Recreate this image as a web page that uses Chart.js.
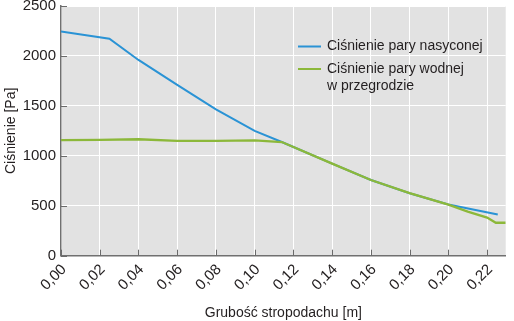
<!DOCTYPE html>
<html>
<head>
<meta charset="utf-8">
<script src="https://cdn.jsdelivr.net/npm/chart.js@4/dist/chart.umd.min.js"></script>
<style>
  html, body { margin: 0; padding: 0; background: #fff; }
  canvas { display: block; }
</style>
</head>
<body>
<canvas id="c" width="514" height="321"></canvas>
<script>
// thickness of roof slab [m] vs pressure [Pa]
const satX = [0, 0.025, 0.04, 0.06, 0.08, 0.10, 0.114, 0.12, 0.14, 0.16, 0.18, 0.20, 0.2255];
const satY = [2245, 2172, 1960, 1710, 1465, 1250, 1138, 1088, 922, 758, 626, 512, 412];

const vapX = [0, 0.02, 0.04, 0.06, 0.08, 0.10, 0.114, 0.12, 0.14, 0.16, 0.18, 0.20, 0.21, 0.22, 0.2245, 0.2296];
const vapY = [1158, 1160, 1166, 1150, 1150, 1154, 1138, 1088, 922, 758, 626, 512, 442, 382, 330, 330];

const xTicks = [0, 0.02, 0.04, 0.06, 0.08, 0.10, 0.12, 0.14, 0.16, 0.18, 0.20, 0.22];
const yTicks = [0, 500, 1000, 1500, 2000, 2500];

const satLabel = ['Ciśnienie pary nasyconej'];
const vapLabel = ['Ciśnienie pary wodnej', 'w przegrodzie'];

const BLUE = '#2a93d5';
const GREEN = '#8cb83a';
const TEXT = '#231f20';
const FONT = "'Liberation Sans', Arial, sans-serif";

const toPts = (xs, ys) => xs.map((x, i) => ({ x, y: ys[i] }));

// grey plot background
const plotBg = {
  id: 'plotBg',
  beforeDraw(chart) {
    const { ctx, chartArea: a } = chart;
    ctx.save();
    ctx.fillStyle = '#e2e2e2';
    ctx.fillRect(a.left, a.top, a.right - a.left, a.bottom - a.top);
    ctx.restore();
  }
};

// short tick marks pointing into the plot
const innerTicks = {
  id: 'innerTicks',
  beforeDatasetsDraw(chart) {
    const { ctx, scales: { x, y } } = chart;
    ctx.save();
    ctx.strokeStyle = '#6a6a6a';
    ctx.lineWidth = 1;
    ctx.beginPath();
    xTicks.forEach(v => {
      const px = Math.round(x.getPixelForValue(v)) + 0.5;
      ctx.moveTo(px, y.bottom);
      ctx.lineTo(px, y.bottom - 6);
    });
    yTicks.forEach(v => {
      const py = Math.round(y.getPixelForValue(v)) + 0.5;
      ctx.moveTo(x.left, py);
      ctx.lineTo(x.left + 6, py);
    });
    ctx.stroke();
    ctx.restore();
  }
};

// legend in the upper right of the plot, second label wraps
const insideLegend = {
  id: 'insideLegend',
  afterDatasetsDraw(chart) {
    const { ctx } = chart;
    const items = [
      { color: BLUE, lines: satLabel, y: 46.5 },
      { color: GREEN, lines: vapLabel, y: 69 }
    ];
    ctx.save();
    ctx.font = '14px ' + FONT;
    ctx.textBaseline = 'middle';
    ctx.fillStyle = TEXT;
    items.forEach(it => {
      ctx.strokeStyle = it.color;
      ctx.lineWidth = 2;
      ctx.beginPath();
      ctx.moveTo(298, it.y);
      ctx.lineTo(321, it.y);
      ctx.stroke();
      it.lines.forEach((t, i) => ctx.fillText(t, 327, it.y + i * 17.5));
    });
    ctx.restore();
  }
};

new Chart(document.getElementById('c'), {
  type: 'line',
  data: {
    datasets: [
      {
        label: satLabel.join(' '),
        data: toPts(satX, satY),
        borderColor: BLUE,
        borderWidth: 2,
        pointRadius: 0,
        tension: 0,
        order: 1
      },
      {
        label: vapLabel.join(' '),
        data: toPts(vapX, vapY),
        borderColor: GREEN,
        borderWidth: 2.3,
        pointRadius: 0,
        tension: 0,
        order: 0
      }
    ]
  },
  options: {
    responsive: false,
    animation: false,
    layout: { autoPadding: false, padding: { top: 6, right: 8.3, bottom: 0, left: 0 } },
    plugins: { legend: { display: false }, tooltip: { enabled: false } },
    scales: {
      x: {
        type: 'linear',
        min: 0,
        max: 0.2296,
        afterBuildTicks: s => { s.ticks = xTicks.map(v => ({ value: v })); },
        afterFit: s => { s.height = 65.3; s.paddingLeft = 0; s.paddingRight = 0; },
        border: { color: '#707070', width: 1.5 },
        grid: { color: '#ffffff', lineWidth: 1, drawTicks: false },
        ticks: {
          minRotation: 45,
          maxRotation: 45,
          padding: 5,
          labelOffset: 3,
          color: TEXT,
          font: { family: FONT, size: 15 },
          callback: v => v.toFixed(2).replace('.', ',')
        },
        title: {
          display: true,
          text: 'Grubość stropodachu [m]',
          color: TEXT,
          font: { family: FONT, size: 14 },
          padding: { top: 0, bottom: -1 }
        }
      },
      y: {
        min: 0,
        max: 2500,
        afterBuildTicks: s => { s.ticks = yTicks.map(v => ({ value: v })); },
        afterFit: s => { s.width = 61; s.paddingTop = 0; s.paddingBottom = 0; },
        border: { color: '#707070', width: 1.5 },
        grid: { color: '#ffffff', lineWidth: 1, drawTicks: false },
        ticks: {
          padding: 5,
          color: TEXT,
          font: { family: FONT, size: 15 },
          callback: v => String(v)
        },
        title: {
          display: true,
          text: 'Ciśnienie [Pa]',
          color: TEXT,
          font: { family: FONT, size: 14 },
          padding: { top: 3, bottom: 0 }
        }
      }
    }
  },
  plugins: [plotBg, innerTicks, insideLegend]
});
</script>
</body>
</html>
